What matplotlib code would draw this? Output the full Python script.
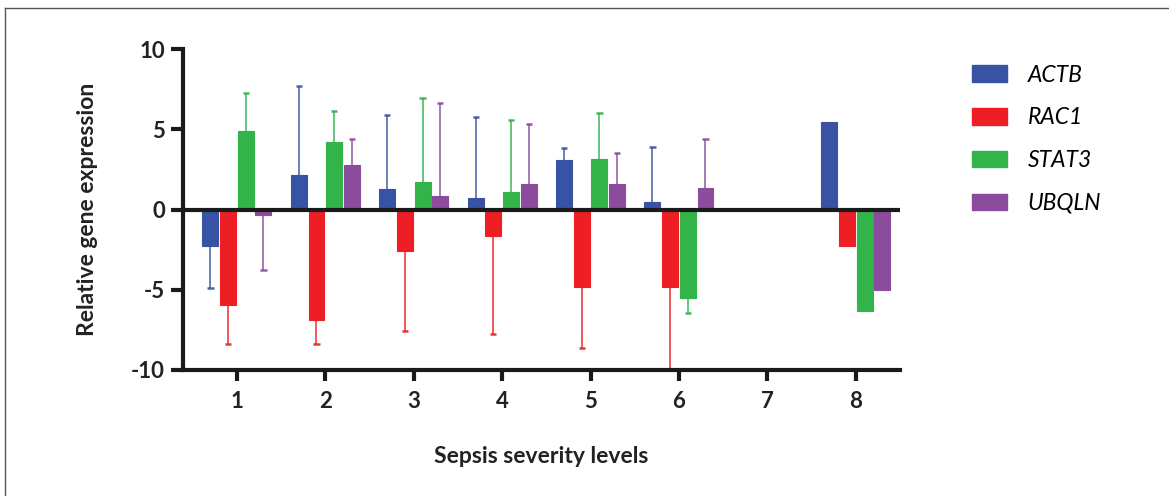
import numpy as np
import matplotlib
matplotlib.use("Agg")
import matplotlib.pyplot as plt
from matplotlib.patches import Patch
from matplotlib.lines import Line2D

plt.rcParams['font.family'] = ['Lato', 'DejaVu Sans']
plt.rcParams['axes.unicode_minus'] = False

# severity levels and genes
levels = [1, 2, 3, 4, 5, 6, 7, 8]
genes = ['ACTB', 'RAC1', 'STAT3', 'UBQLN']
colors = ['#3953A4', '#ED1F24', '#32B44A', '#8B4C9E']

# mean relative expression per gene (nan = no data)
actb = [-2.27, 2.13, 1.30, 0.72, 3.10, 0.49, np.nan, 5.47]
rac1 = [-5.95, -6.90, -2.60, -1.67, -4.80, -4.85, np.nan, -2.27]
stat3 = [4.90, 4.23, 1.73, 1.07, 3.15, -5.53, np.nan, -6.30]
ubqln = [-0.35, 2.80, 0.86, 1.60, 1.57, 1.32, np.nan, -5.02]

# error (one-sided, away from zero)
actb_err = [2.63, 5.57, 4.60, 5.02, 0.73, 3.41, np.nan, np.nan]
rac1_err = [2.45, 1.50, 5.00, 6.07, 3.80, 5.15, np.nan, np.nan]
stat3_err = [2.38, 1.92, 5.22, 4.51, 2.88, 0.90, np.nan, np.nan]
ubqln_err = [3.45, 1.60, 5.79, 3.75, 1.95, 3.09, np.nan, np.nan]

means = [actb, rac1, stat3, ubqln]
errs = [actb_err, rac1_err, stat3_err, ubqln_err]

fig = plt.figure(figsize=(11.69, 4.96), dpi=100)
ax = fig.add_axes([183/1169, 126/496, 717/1169, 321/496])

x = np.array(levels, dtype=float)
offsets = [-0.3, -0.1, 0.1, 0.3]
w = 0.18
for i in range(4):
    m = np.array(means[i])
    e = np.array(errs[i])
    xs = x + offsets[i]
    ax.bar(xs, m, width=w, color=colors[i], edgecolor=colors[i], linewidth=0.8, zorder=2)
    ok = ~np.isnan(e)
    ends = m + np.sign(m) * e
    ax.vlines(xs[ok], m[ok], ends[ok], color=colors[i], alpha=0.8, linewidth=1.3, zorder=1)
    ax.hlines(ends[ok], xs[ok] - 0.035, xs[ok] + 0.035, color=colors[i], alpha=0.9, linewidth=1.8, zorder=1)

ax.axhline(0, color='#1a1a1a', linewidth=3, zorder=3)

ax.set_xlim(0.39, 8.5)
ax.set_ylim(-10, 10)
ax.set_xticks(levels)
ax.set_yticks([-10, -5, 0, 5, 10])
for s in ['top', 'right']:
    ax.spines[s].set_visible(False)
for s in ['left', 'bottom']:
    ax.spines[s].set_linewidth(3)
    ax.spines[s].set_color('#1a1a1a')
ax.tick_params(axis='y', direction='out', length=9, width=3, color='#1a1a1a', pad=4,
               labelsize=16, labelcolor='#222222')
ax.tick_params(axis='x', direction='out', length=8, width=3, color='#1a1a1a', pad=7,
               labelsize=16, labelcolor='#222222', bottom=True)
for lab in ax.get_xticklabels() + ax.get_yticklabels():
    lab.set_fontweight('bold')

ax.set_ylabel('Relative gene expression', fontsize=16.5, fontweight='bold', color='#222222')
ax.set_xlabel('Sepsis severity levels', fontsize=16.5, fontweight='bold', color='#222222')
ax.yaxis.set_label_coords(-0.133, 0.5)
ax.xaxis.set_label_coords(0.5, -0.27)
ax.xaxis.label.set_va('center')
ax.yaxis.label.set_va('center')

handles = [Patch(facecolor=c, edgecolor=c) for c in colors]
fig.legend(handles, genes, loc='upper left', bbox_to_anchor=(951/1169, 1 - 44/496),
           frameon=False, prop={'style': 'italic', 'size': 16.5},
           handlelength=1.53, handleheight=0.74, handletextpad=0.92, labelspacing=0.95)

# outer frame (top and left edges visible)
fig.add_artist(Line2D([5/1169, 5/1169], [0, 1 - 8/496], color='#555555', linewidth=1))
fig.add_artist(Line2D([5/1169, 1], [1 - 8/496, 1 - 8/496], color='#555555', linewidth=1))

fig.savefig('out.png', dpi=100)
